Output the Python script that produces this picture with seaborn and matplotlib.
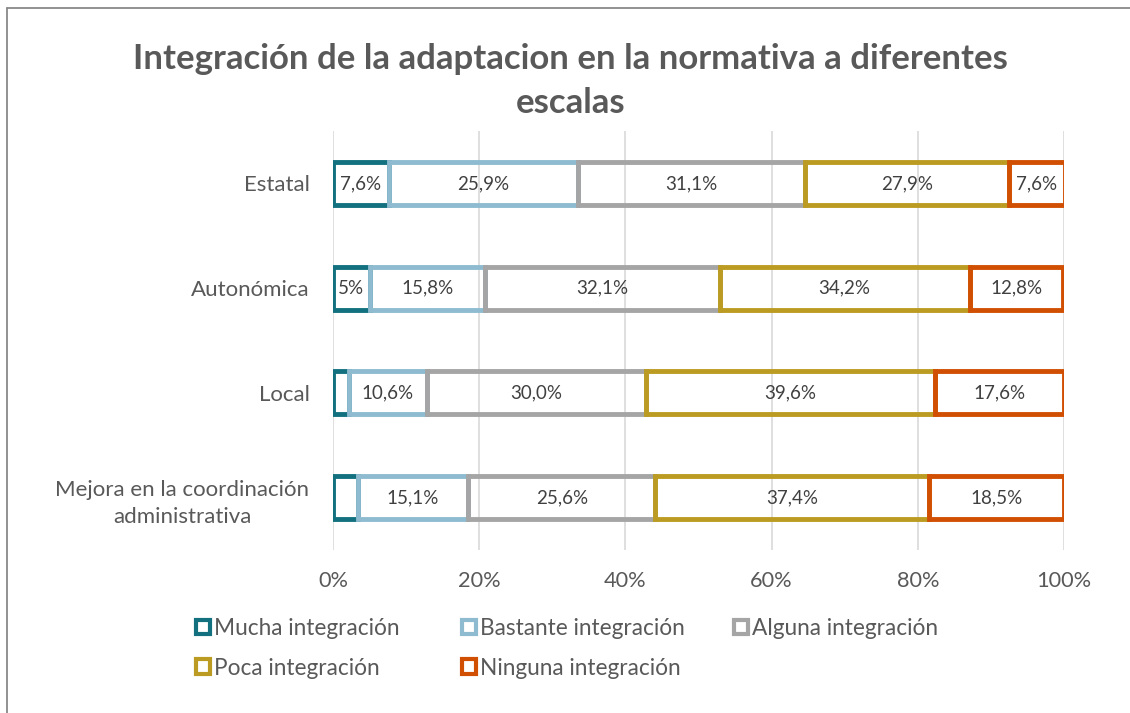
import matplotlib
matplotlib.use("Agg")
import matplotlib.pyplot as plt
from matplotlib.patches import Patch
from matplotlib.lines import Line2D
import seaborn as sns
import pandas as pd

# Categories (top to bottom)
categories = ["Estatal", "Autonómica", "Local",
              "Mejora en la coordinación\nadministrativa"]

# Share of responses per level of integration (%)
mucha = [7.6, 5.0, 2.2, 3.4]
bastante = [25.9, 15.8, 10.6, 15.1]
alguna = [31.1, 32.1, 30.0, 25.6]
poca = [27.9, 34.2, 39.6, 37.4]
ninguna = [7.6, 12.8, 17.6, 18.5]

# Data labels printed inside the segments
mucha_lbl = ["7,6%", "5%", "", ""]
bastante_lbl = ["25,9%", "15,8%", "10,6%", "15,1%"]
alguna_lbl = ["31,1%", "32,1%", "30,0%", "25,6%"]
poca_lbl = ["27,9%", "34,2%", "39,6%", "37,4%"]
ninguna_lbl = ["7,6%", "12,8%", "17,6%", "18,5%"]

series_names = ["Mucha integración", "Bastante integración", "Alguna integración",
                "Poca integración", "Ninguna integración"]
series_vals = [mucha, bastante, alguna, poca, ninguna]
series_lbls = [mucha_lbl, bastante_lbl, alguna_lbl, poca_lbl, ninguna_lbl]
series_colors = ["#13707F", "#8EBBCF", "#A5A5A5", "#BB9B21", "#D14F02"]

xticks = [0, 20, 40, 60, 80, 100]
xtick_labels = ["0%", "20%", "40%", "60%", "80%", "100%"]

TEXT = "#595959"
FONT = ["Lato", "DejaVu Sans"]

sns.set_theme(style="white")
plt.rcParams["font.family"] = FONT

fig = plt.figure(figsize=(11.30, 7.13), dpi=100)
ax = fig.add_axes([333 / 1130, 1 - 550 / 713, (1064 - 333) / 1130, (550 - 131) / 713])

# vertical gridlines behind the bars
for t in xticks:
    ax.axvline(t, color="#D9D9D9", lw=1.2, zorder=0)

starts = [0.0] * len(categories)
for name, vals, lbls, col in zip(series_names, series_vals, series_lbls, series_colors):
    df = pd.DataFrame({"cat": categories, "val": vals})
    sns.barplot(data=df, x="val", y="cat", orient="h", fill=False, color=col,
                width=0.41, linewidth=3.5, joinstyle="miter", left=list(starts),
                ax=ax, zorder=2)
    for i, (v, lab) in enumerate(zip(vals, lbls)):
        if lab:
            ax.text(starts[i] + v / 2, i, lab, ha="center", va="center",
                    fontsize=13.5, color="#404040", zorder=3)
    starts = [s + v for s, v in zip(starts, vals)]

ax.set_xlim(0, 100)
ax.set_ylim(3.5, -0.5)
ax.set_xticks(xticks)
ax.set_xticklabels(xtick_labels)
ax.set_xlabel("")
ax.set_ylabel("")
for sp in ax.spines.values():
    sp.set_visible(False)
ax.tick_params(axis="x", length=0, pad=15, labelsize=15.7, labelcolor=TEXT)
ax.tick_params(axis="y", length=0, pad=17, labelsize=16, labelcolor=TEXT)
for lab in ax.get_yticklabels():
    lab.set_multialignment("center")
    lab.set_linespacing(1.45)
ax.grid(False)

fig.text(0.505, 1 - 81 / 713,
         "Integración de la adaptacion en la normativa a diferentes\nescalas",
         ha="center", va="center", fontsize=25, fontweight="bold", color=TEXT,
         linespacing=1.45)

# legend: three columns, filled row by row
legend_cols = [[0, 3], [1, 4], [2]]
legend_x = [196, 462, 734]
for idxs, x0 in zip(legend_cols, legend_x):
    handles = [Patch(facecolor="white", edgecolor=series_colors[k], linewidth=3.0,
                     label=series_names[k]) for k in idxs]
    fig.legend(handles=handles, ncol=1, loc="upper left",
               bbox_to_anchor=(x0 / 1130, 1 - 618 / 713), frameon=False,
               fontsize=16.3, labelcolor=TEXT, handlelength=0.6, handleheight=0.6,
               handletextpad=0.2, labelspacing=0.82,
               borderpad=0, borderaxespad=0)

# chart border (top and left edges visible)
fig.add_artist(Line2D([7 / 1130, 1.0], [1 - 8 / 713, 1 - 8 / 713],
                      transform=fig.transFigure, color="#898989", lw=1.3))
fig.add_artist(Line2D([7 / 1130, 7 / 1130], [0.0, 1 - 8 / 713],
                      transform=fig.transFigure, color="#898989", lw=1.3))

fig.savefig("out.png", dpi=100, facecolor="white")
